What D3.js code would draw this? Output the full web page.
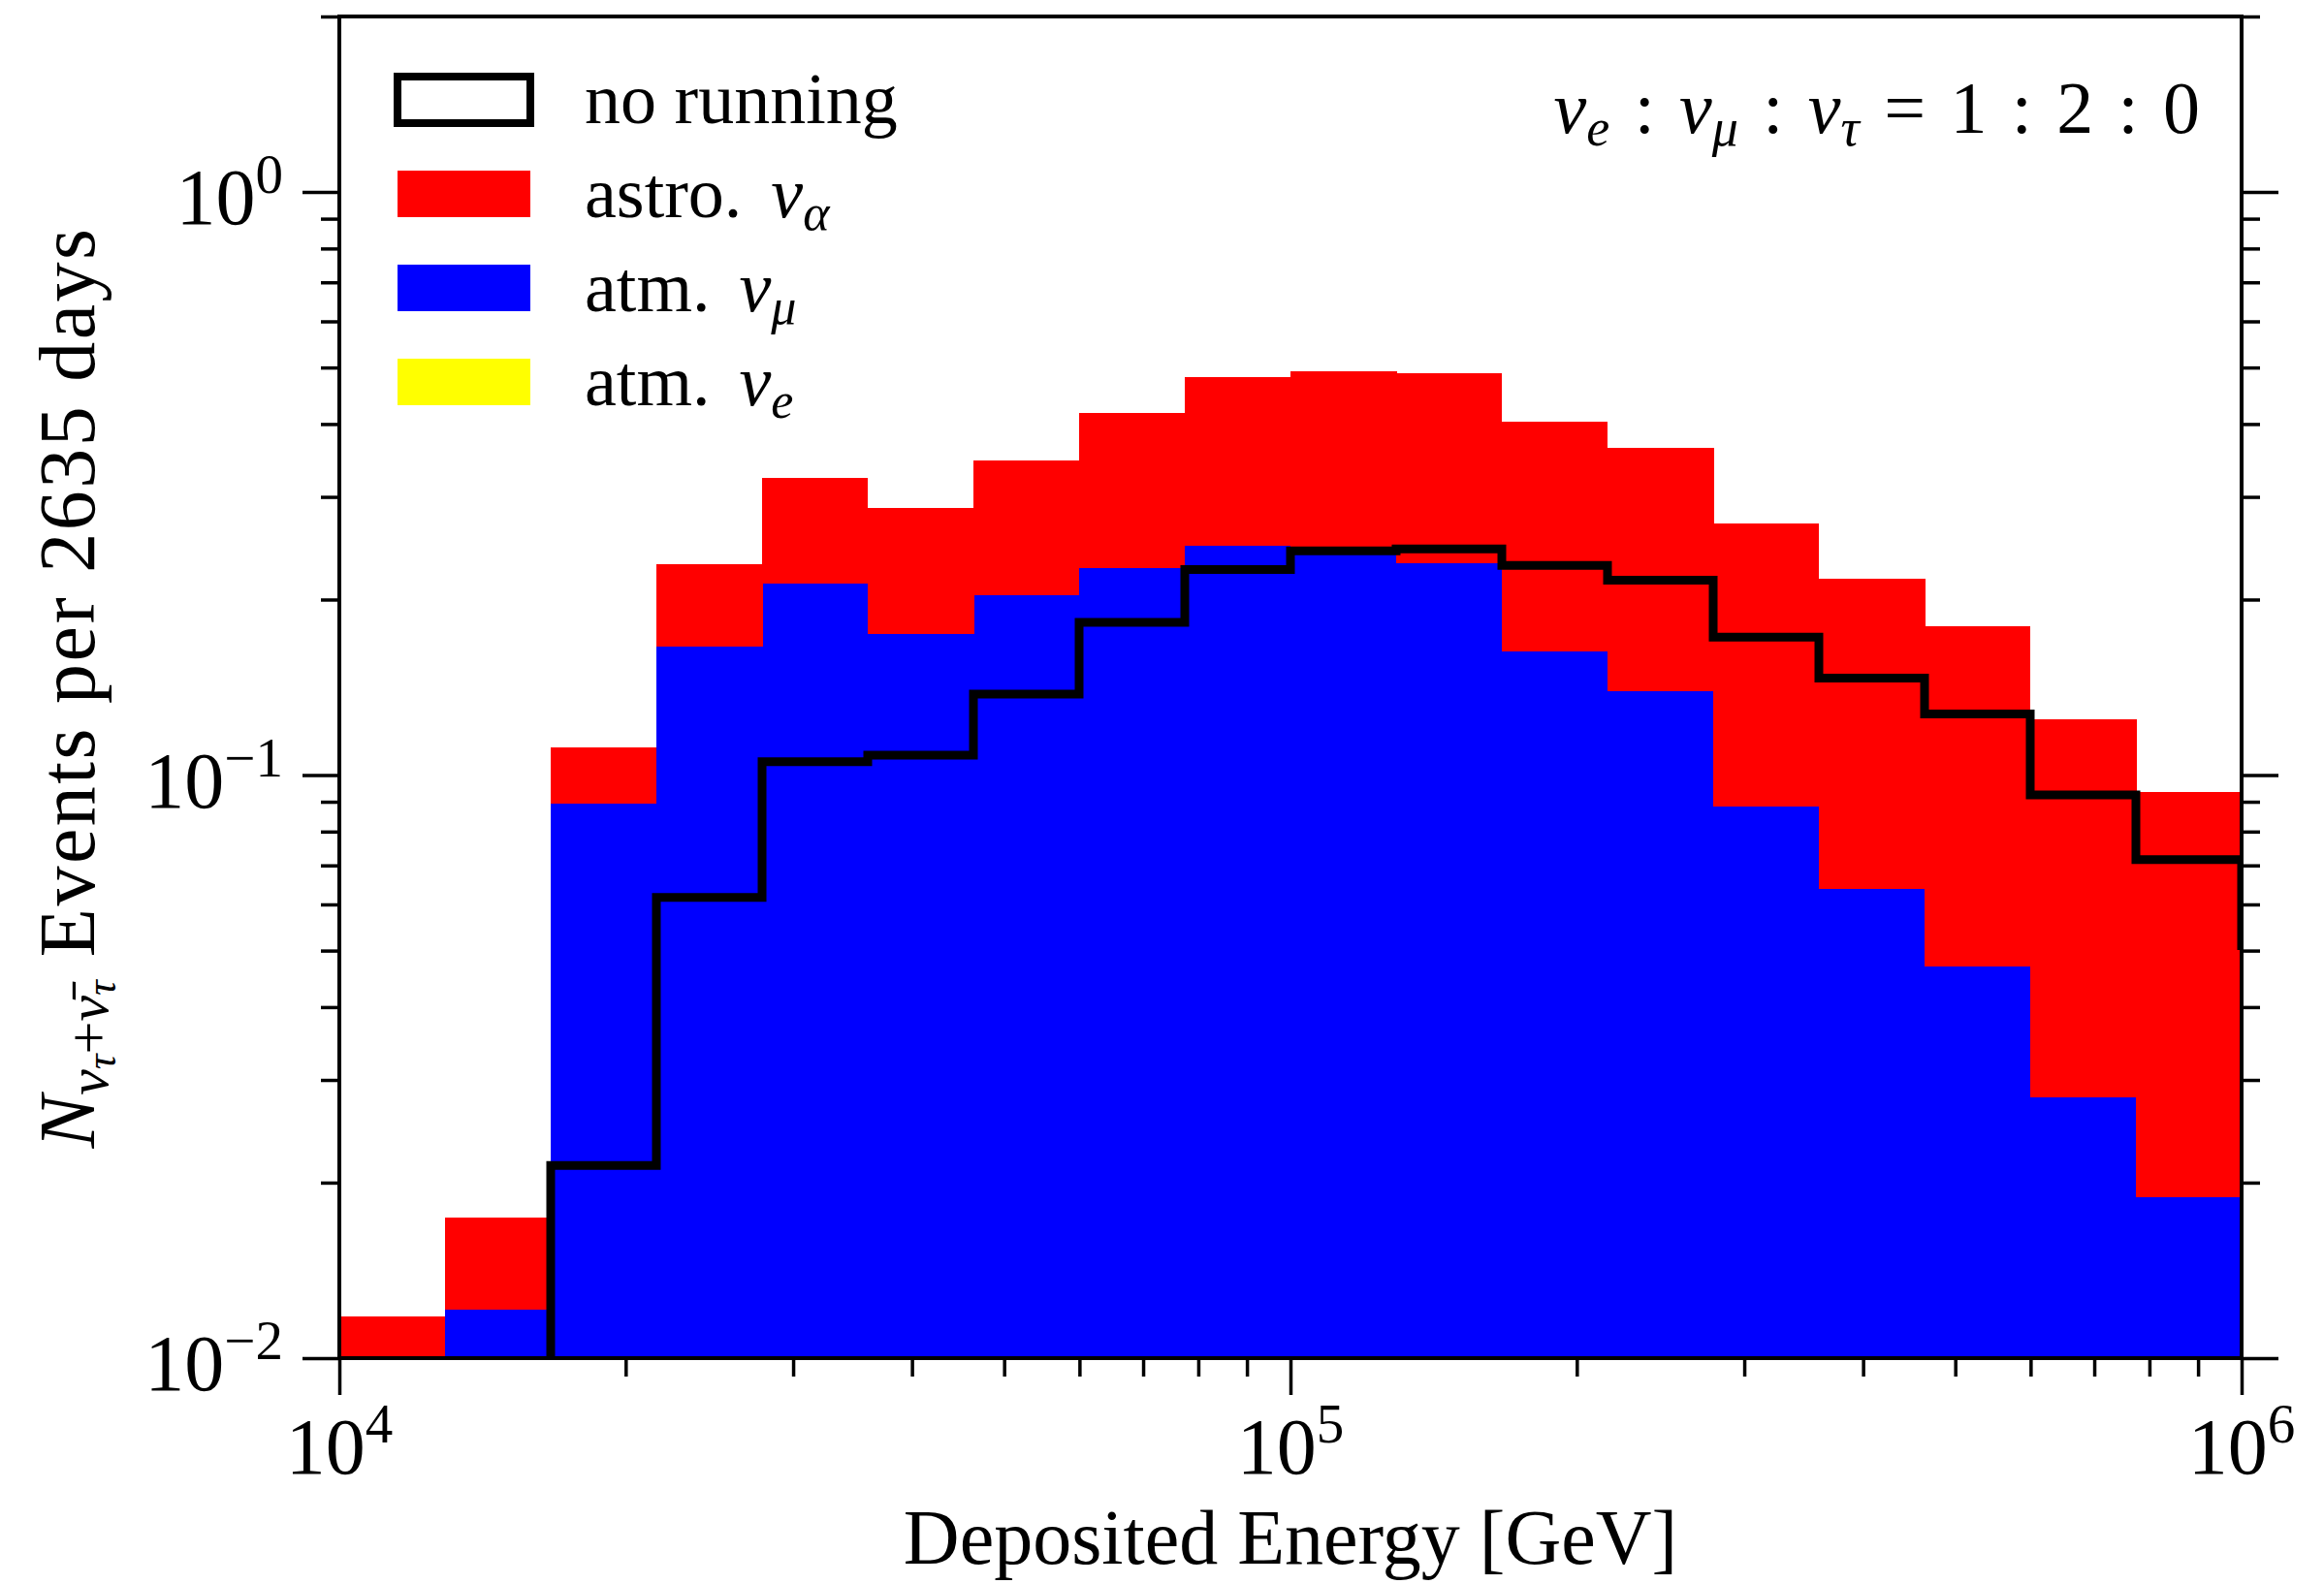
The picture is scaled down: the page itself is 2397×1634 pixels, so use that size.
<!DOCTYPE html>
<html>
<head>
<meta charset="utf-8">
<script src="https://cdn.jsdelivr.net/npm/d3@7"></script>
<style>
    body { margin: 0; background: #fff; }
    svg text { font-family: "Liberation Serif", "DejaVu Serif", serif; fill: #000; }
    .it { font-style: italic; }
</style>
</head>
<body>
<svg id="chart"></svg>
<script>

// bin edges in GeV, 9 bins per decade (last edge is the overflow bin past 1e6)
var binEdges = [
    10000, 12915, 16681, 21544, 27826, 35938, 46416, 59948, 77426,
    100000, 129155, 166810, 215443, 278256, 359381, 464159, 599484, 774264,
    1000000, 1291550
];

// atm. nu_mu (blue, bottom of the stack)
var atmMu = [
    0, 0.0121, 0.0894, 0.1658, 0.2131, 0.1747, 0.2038, 0.2263, 0.2473,
    0.2404, 0.2310, 0.1632, 0.1395, 0.0882, 0.0639, 0.0469, 0.0280, 0.0189
];

// astro. nu_alpha (red, stacked on top of atm.)
var astro = [
    0.0118, 0.0053, 0.0223, 0.0641, 0.1108, 0.1124, 0.1430, 0.1912, 0.2333,
    0.2531, 0.2576, 0.2403, 0.2248, 0.1816, 0.1532, 0.1329, 0.0966, 0.0746
];

// no running, black step line (last value is the bin beyond 1e6)
var noRunning = [
    0, 0, 0.0214, 0.0617, 0.1054, 0.1082, 0.1377, 0.1827, 0.2252,
    0.2423, 0.2442, 0.2288, 0.2159, 0.1724, 0.1466, 0.1273, 0.0925, 0.0716,
    0.0510
];

var xMajor = [1e4, 1e5, 1e6];
var xMajorExp = ['4', '5', '6'];
var yMajor = [1e-2, 1e-1, 1e0];
var yMajorExp = ['\u22122', '\u22121', '0'];

var legendItems = [
    {label: 'no running', sub: null, color: null},
    {label: 'astro.', sub: '\u03b1', color: '#ff0000'},
    {label: 'atm.', sub: '\u03bc', color: '#0000ff'},
    {label: 'atm.', sub: 'e', color: '#ffff00'}
];

(function () {

    var W = 2397, H = 1634;
    var m = {left: 350, right: 2312, top: 17, bottom: 1401};

    var svg = d3.select('#chart').attr('width', W).attr('height', H);
    svg.append('rect').attr('width', W).attr('height', H).attr('fill', '#fff');

    var x = d3.scaleLog().domain([1e4, 1e6]).range([m.left, m.right]);
    var y = d3.scaleLog().domain([0.01, 2]).range([m.bottom, m.top]);
    var yMin = 0.01;

    svg.append('clipPath').attr('id', 'plot-clip')
        .append('rect')
        .attr('x', m.left).attr('y', m.top)
        .attr('width', m.right - m.left).attr('height', m.bottom - m.top);

    var plot = svg.append('g').attr('clip-path', 'url(#plot-clip)');

    // stacked histogram
    var rows = atmMu.map(function (v, i) {
        return {i: i, atmMu: v, astro: astro[i]};
    });
    var series = d3.stack().keys(['atmMu', 'astro'])(rows);
    var colors = {atmMu: '#0000ff', astro: '#ff0000'};

    plot.selectAll('g.layer')
        .data(series)
        .enter()
        .append('g')
        .attr('class', 'layer')
        .attr('fill', function (s) { return colors[s.key]; })
        .attr('shape-rendering', 'crispEdges')
        .selectAll('rect')
        .data(function (s) {
            return s.filter(function (d) { return d[1] > d[0] && d[1] > yMin; });
        })
        .enter()
        .append('rect')
        .attr('x', function (d) { return x(binEdges[d.data.i]); })
        .attr('width', function (d) { return x(binEdges[d.data.i + 1]) - x(binEdges[d.data.i]) + 0.5; })
        .attr('y', function (d) { return y(d[1]); })
        .attr('height', function (d) { return y(Math.max(d[0], yMin)) - y(d[1]); });

    // step line
    var pts = [[binEdges[0], 0]];
    noRunning.forEach(function (v, i) {
        pts.push([binEdges[i], v]);
        pts.push([binEdges[i + 1], v]);
    });
    pts.push([binEdges[noRunning.length], 0]);

    plot.append('path')
        .datum(pts)
        .attr('fill', 'none')
        .attr('stroke', '#000')
        .attr('stroke-width', 9)
        .attr('stroke-linejoin', 'miter')
        .attr('d', d3.line()
            .x(function (p) { return x(p[0]); })
            .y(function (p) { return p[1] > 0 ? y(p[1]) : m.bottom + 30; }));

    // ticks
    var xMinor = x.ticks().filter(function (t) { return xMajor.indexOf(t) < 0; });
    var yMinor = y.ticks().filter(function (t) { return yMajor.indexOf(t) < 0; });

    function styleAxis(g) {
        g.select('.domain').remove();
        g.selectAll('line').attr('stroke', '#000').attr('stroke-width', 3.5);
        g.selectAll('text').remove();
    }

    [[xMajor, 38], [xMinor, 19]].forEach(function (t) {
        svg.append('g')
            .attr('transform', 'translate(0,' + m.bottom + ')')
            .call(d3.axisBottom(x).tickValues(t[0]).tickSize(t[1]).tickFormat(''))
            .call(styleAxis);
    });
    [[yMajor, 38], [yMinor, 19]].forEach(function (t) {
        svg.append('g')
            .attr('transform', 'translate(' + m.left + ',0)')
            .call(d3.axisLeft(y).tickValues(t[0]).tickSize(t[1]).tickFormat(''))
            .call(styleAxis);
        svg.append('g')
            .attr('transform', 'translate(' + m.right + ',0)')
            .call(d3.axisRight(y).tickValues(t[0]).tickSize(t[1]).tickFormat(''))
            .call(styleAxis);
    });

    // spines
    svg.append('rect')
        .attr('x', m.left).attr('y', m.top)
        .attr('width', m.right - m.left).attr('height', m.bottom - m.top)
        .attr('fill', 'none').attr('stroke', '#000').attr('stroke-width', 4);

    // tick labels
    xMajor.forEach(function (v, i) {
        var t = svg.append('text')
            .attr('x', x(v)).attr('y', 1520)
            .attr('text-anchor', 'middle')
            .attr('font-size', 82);
        t.append('tspan').text('10');
        t.append('tspan').attr('font-size', 57).attr('dy', -32).text(xMajorExp[i]);
    });
    yMajor.forEach(function (v, i) {
        var t = svg.append('text')
            .attr('x', 292).attr('y', y(v) + 33)
            .attr('text-anchor', 'end')
            .attr('font-size', 82);
        t.append('tspan').text('10');
        t.append('tspan').attr('font-size', 57).attr('dy', -32).text(yMajorExp[i]);
    });

    // axis titles
    svg.append('text')
        .attr('x', (m.left + m.right) / 2).attr('y', 1613)
        .attr('text-anchor', 'middle')
        .attr('font-size', 80)
        .text('Deposited Energy [GeV]');

    var yl = svg.append('text')
        .attr('transform', 'translate(97,' + ((m.top + m.bottom) / 2) + ') rotate(-90)')
        .attr('text-anchor', 'middle')
        .attr('font-size', 82);
    yl.append('tspan').attr('class', 'it').text('N');
    yl.append('tspan').attr('class', 'it').attr('font-size', 60).attr('dy', 14).text('\u03bd');
    yl.append('tspan').attr('class', 'it').attr('font-size', 44).attr('dy', 8).text('\u03c4');
    yl.append('tspan').attr('font-size', 60).attr('dy', -8).text('+');
    yl.append('tspan').attr('class', 'it').attr('font-size', 60).text('\u03bd\u0304');
    yl.append('tspan').attr('class', 'it').attr('font-size', 44).attr('dy', 8).text('\u03c4');
    yl.append('tspan').attr('dy', -22).attr('dx', 24)
        .attr('letter-spacing', 2.5)
        .text('Events per 2635 days');

    // flavour ratio annotation
    var ann = svg.append('text')
        .attr('x', 2269).attr('y', 137)
        .attr('text-anchor', 'end')
        .attr('font-size', 76);
    [['e', '\u2004:\u2004'], ['\u03bc', '\u2004:\u2004'], ['\u03c4', '\u2004=\u20041\u2004:\u20042\u2004:\u20040']].forEach(function (p) {
        ann.append('tspan').attr('class', 'it').text('\u03bd');
        ann.append('tspan').attr('class', 'it').attr('font-size', 54).attr('dy', 13).text(p[0]);
        ann.append('tspan').attr('dy', -13).text(p[1]);
    });

    // legend
    var lg = svg.append('g');
    legendItems.forEach(function (d, i) {
        var cy = 103 + i * 97;
        if (d.color) {
            lg.append('rect')
                .attr('x', 410).attr('y', cy - 24)
                .attr('width', 137).attr('height', 48)
                .attr('fill', d.color);
        } else {
            lg.append('rect')
                .attr('x', 410).attr('y', cy - 24)
                .attr('width', 137).attr('height', 48)
                .attr('fill', 'none').attr('stroke', '#000').attr('stroke-width', 8);
        }
        var t = lg.append('text')
            .attr('x', 603).attr('y', cy + 24)
            .attr('font-size', 74);
        t.append('tspan').text(d.label);
        if (d.sub) {
            t.append('tspan').attr('class', 'it').attr('dx', 30).text('\u03bd');
            t.append('tspan').attr('class', 'it').attr('font-size', 52).attr('dy', 13).text(d.sub);
        }
    });

})();
</script>
</body>
</html>
